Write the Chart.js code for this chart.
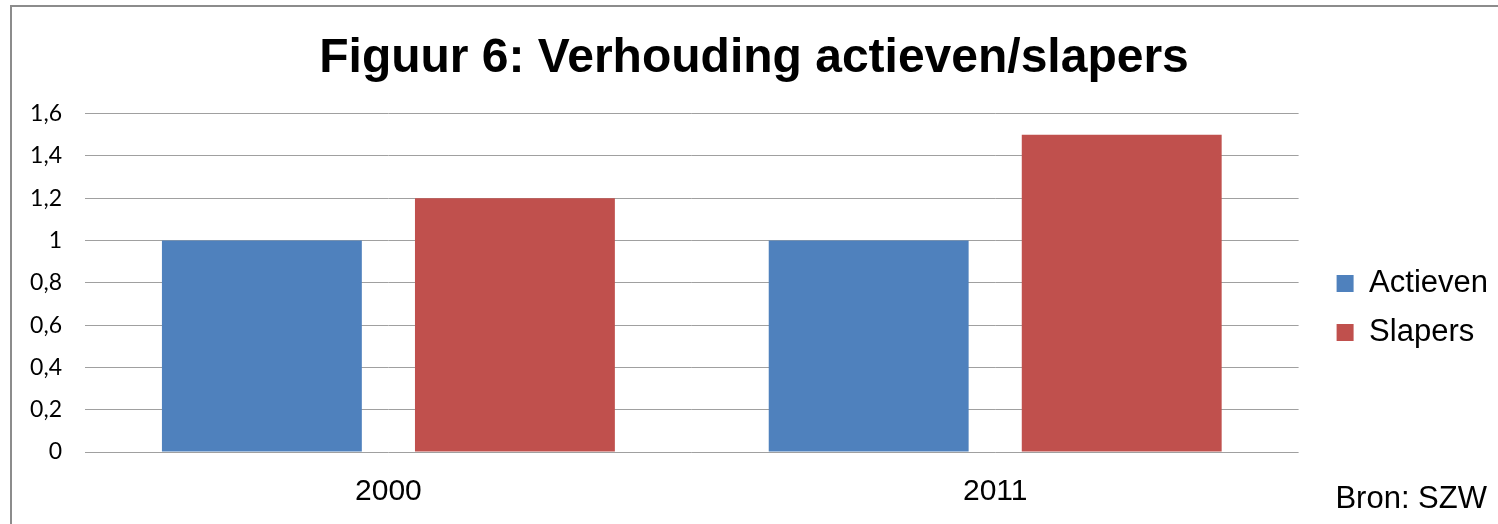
<!DOCTYPE html>
<html>
<head>
<meta charset="utf-8">
<script src="https://cdn.jsdelivr.net/npm/chart.js@4.4.1/dist/chart.umd.min.js"></script>
<style>
  html, body { margin: 0; padding: 0; background: #fff; overflow: hidden; }
  #wrap { position: relative; width: 1498px; height: 524px; }
  #frame {
    position: absolute; left: 10px; top: 5px; width: 1600px; height: 700px;
    border: 2px solid #8c8c8c; box-sizing: border-box;
  }
  #chart { position: absolute; left: 0; top: 0; }
  #bron {
    position: absolute; right: 11px; top: 480px;
    font: 31px "Liberation Sans", Arial, sans-serif; color: #000; line-height: 36px;
  }
</style>
</head>
<body>
<div id="wrap">
  <div id="frame"></div>
  <canvas id="chart" width="1498" height="524"></canvas>
  <div id="bron">Bron: SZW</div>
</div>
<script>
// Data
const categories = ['2000', '2011'];
const actieven = [1, 1];
const slapers = [1.2, 1.5];
const yTicks = [0, 0.2, 0.4, 0.6, 0.8, 1, 1.2, 1.4, 1.6];

const chartTitle = 'Figuur 6: Verhouding actieven/slapers';

// Format numbers Dutch style (comma as decimal)
function formatTick(v) {
    return String(Number(v.toFixed(1))).replace('.', ',');
}

// Push the legend down so it sits beside the middle of the plot
const legendShift = {
    id: 'legendShift',
    afterLayout(chart) {
        const lg = chart.legend;
        if (lg) {
            lg.top += 38;
            lg.bottom += 38;
        }
    }
};

const ctx = document.getElementById('chart');

new Chart(ctx, {
    type: 'bar',
    data: {
        labels: categories,
        datasets: [
            {
                label: 'Actieven',
                data: actieven,
                backgroundColor: '#4F81BD',
                categoryPercentage: 0.834,
                barPercentage: 0.79
            },
            {
                label: 'Slapers',
                data: slapers,
                backgroundColor: '#C0504D',
                categoryPercentage: 0.834,
                barPercentage: 0.79
            }
        ]
    },
    options: {
        responsive: false,
        animation: false,
        devicePixelRatio: 1,
        layout: {
            padding: { left: 10, top: 30, right: 0, bottom: 14 }
        },
        plugins: {
            title: {
                display: true,
                text: chartTitle,
                color: '#000',
                font: { family: '"Liberation Sans", Arial, sans-serif', size: 48, weight: 'bold' },
                padding: { top: 0, bottom: 26 }
            },
            legend: {
                position: 'right',
                align: 'center',
                labels: {
                    boxWidth: 17,
                    boxHeight: 17,
                    padding: 18,
                    color: '#000',
                    font: { family: '"Liberation Sans", Arial, sans-serif', size: 31 }
                }
            },
            tooltip: { enabled: false }
        },
        scales: {
            x: {
                grid: { display: false, drawTicks: false },
                border: { display: false },
                ticks: {
                    color: '#000',
                    padding: 22,
                    font: { family: '"Liberation Sans", Arial, sans-serif', size: 30 }
                },
                afterFit: (scale) => { scale.height = 58; }
            },
            y: {
                min: 0,
                max: 1.6,
                afterBuildTicks: (scale) => {
                    scale.ticks = yTicks.map(v => ({ value: v }));
                },
                grid: { color: '#a0a0a0', lineWidth: 1, drawTicks: false },
                border: { display: false },
                ticks: {
                    color: '#000',
                    padding: 23,
                    font: { family: 'Lato, "Open Sans", sans-serif', size: 23 },
                    callback: (v) => formatTick(v)
                },
                afterFit: (scale) => { scale.width = 75; }
            },
            // spacer between plot area and legend
            gap: {
                position: 'right',
                display: true,
                grid: { display: false, drawTicks: false },
                border: { display: false },
                ticks: { display: false },
                afterFit: (scale) => { scale.width = 20; }
            }
        }
    },
    plugins: [legendShift]
});
</script>
</body>
</html>
